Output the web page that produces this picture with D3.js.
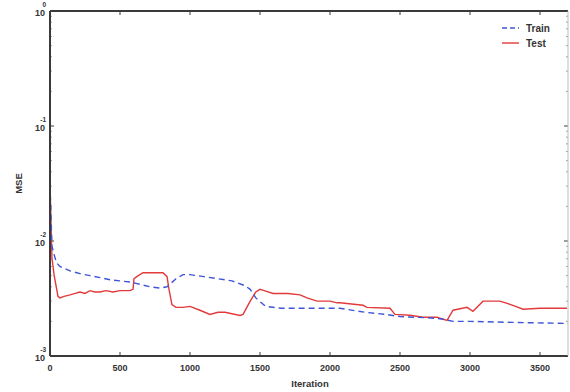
<!DOCTYPE html>
<html>
<head>
<meta charset="utf-8">
<script src="https://cdn.jsdelivr.net/npm/d3@7"></script>
<style>
  html, body { margin: 0; padding: 0; background: #fff; }
  svg text { font-family: Arial, "Liberation Sans", sans-serif; font-weight: bold; fill: #333; }
</style>
</head>
<body>
<svg id="chart" width="570" height="392"></svg>
<script>
// Training curve: iteration -> MSE
const trainIter = [0, 14, 36, 50, 71, 143, 214, 286, 357, 429, 500, 571, 643, 714, 786, 836, 900, 950, 1000, 1100, 1200, 1300, 1390, 1430, 1470, 1540, 1650, 1800, 2000, 2071, 2250, 2400, 2500, 2700, 2800, 2880, 3000, 3300, 3700];
const trainMSE  = [0.031, 0.0090, 0.0071, 0.0064, 0.0060, 0.0055, 0.0052, 0.0050, 0.0048, 0.0046, 0.0045, 0.0044, 0.0042, 0.0040, 0.0039, 0.0040, 0.0047, 0.0051, 0.0051, 0.0049, 0.0047, 0.0045, 0.0041, 0.0038, 0.0032, 0.0027, 0.0026, 0.0026, 0.0026, 0.0026, 0.0024, 0.0023, 0.0022, 0.00215, 0.0021, 0.0020, 0.0020, 0.00196, 0.00192];

// Test curve: iteration -> MSE
const testIter = [0, 14, 30, 57, 71, 100, 143, 180, 214, 250, 286, 320, 357, 400, 450, 500, 571, 593, 600, 620, 664, 700, 807, 836, 850, 871, 900, 950, 1000, 1071, 1143, 1200, 1250, 1357, 1379, 1430, 1470, 1500, 1530, 1593, 1700, 1786, 1836, 1907, 2000, 2050, 2071, 2236, 2264, 2429, 2464, 2571, 2664, 2764, 2836, 2879, 2979, 3021, 3093, 3214, 3307, 3379, 3500, 3693];
const testMSE  = [0.031, 0.0071, 0.0050, 0.0033, 0.0032, 0.0033, 0.0034, 0.0035, 0.0036, 0.0035, 0.0037, 0.0036, 0.0036, 0.0037, 0.0036, 0.0037, 0.0037, 0.0038, 0.0047, 0.0049, 0.0053, 0.0053, 0.0053, 0.0049, 0.0038, 0.0028, 0.00265, 0.00265, 0.0027, 0.0025, 0.0023, 0.0024, 0.0024, 0.00225, 0.0023, 0.0030, 0.0036, 0.0038, 0.0037, 0.0035, 0.0035, 0.0034, 0.0032, 0.0030, 0.0030, 0.0029, 0.0029, 0.00276, 0.00265, 0.0026, 0.0023, 0.00226, 0.00217, 0.00217, 0.00204, 0.0025, 0.00265, 0.00245, 0.0030, 0.0030, 0.00276, 0.00255, 0.0026, 0.0026];

const xTicks = [0, 500, 1000, 1500, 2000, 2500, 3000, 3500];
const yTicks = [1e-3, 1e-2, 1e-1, 1];
const yExponents = ["-3", "-2", "-1", "0"];
const seriesNames = ["Train", "Test"];

const svg = d3.select("#chart");
const plotLeft = 50, plotRight = 568, plotTop = 11, plotBottom = 356;

const x = d3.scaleLinear().domain([0, 3700]).range([plotLeft, plotRight]);
const y = d3.scaleLog().domain([1e-3, 1]).range([plotBottom, plotTop]);

const axisColor = "#3a3a3a";

// Minor ticks for the log axis (2..9 within each decade)
const minor = [];
for (let d = -3; d < 0; d++) {
  for (let m = 2; m <= 9; m++) minor.push(m * Math.pow(10, d));
}

// Frame ticks, pointing inward on all four sides
const ticksG = svg.append("g").attr("stroke", axisColor);
xTicks.forEach(t => {
  ticksG.append("line").attr("x1", x(t)).attr("x2", x(t)).attr("y1", plotBottom).attr("y2", plotBottom - 4).attr("stroke-width", 1);
  ticksG.append("line").attr("x1", x(t)).attr("x2", x(t)).attr("y1", plotTop).attr("y2", plotTop + 4).attr("stroke-width", 1);
});
yTicks.forEach(t => {
  ticksG.append("line").attr("x1", plotLeft).attr("x2", plotLeft + 4).attr("y1", y(t)).attr("y2", y(t)).attr("stroke-width", 1);
  ticksG.append("line").attr("x1", plotRight).attr("x2", plotRight - 4).attr("y1", y(t)).attr("y2", y(t)).attr("stroke-width", 1);
});
minor.forEach(t => {
  ticksG.append("line").attr("x1", plotLeft).attr("x2", plotLeft + 2).attr("y1", y(t)).attr("y2", y(t)).attr("stroke-width", 0.8).attr("stroke-opacity", 0.6);
  ticksG.append("line").attr("x1", plotRight).attr("x2", plotRight - 2).attr("y1", y(t)).attr("y2", y(t)).attr("stroke-width", 0.8).attr("stroke-opacity", 0.6);
});

// Data lines
const line = d3.line().x(d => x(d[0])).y(d => y(d[1]));
const trainData = trainIter.map((t, i) => [t, trainMSE[i]]);
const testData = testIter.map((t, i) => [t, testMSE[i]]);

svg.append("path").datum(testData)
  .attr("d", line).attr("fill", "none")
  .attr("stroke", "#e23a3a").attr("stroke-width", 1.4);

svg.append("path").datum(trainData)
  .attr("d", line).attr("fill", "none")
  .attr("stroke", "#3f55d6").attr("stroke-width", 1.4)
  .attr("stroke-dasharray", "6,4");

// Frame box
svg.append("line").attr("x1", plotLeft).attr("x2", plotLeft).attr("y1", plotTop).attr("y2", plotBottom).attr("stroke", axisColor).attr("stroke-width", 2);
svg.append("line").attr("x1", plotLeft).attr("x2", plotRight).attr("y1", plotBottom).attr("y2", plotBottom).attr("stroke", axisColor).attr("stroke-width", 2);
svg.append("line").attr("x1", plotLeft).attr("x2", plotRight).attr("y1", plotTop).attr("y2", plotTop).attr("stroke", axisColor).attr("stroke-width", 2);
svg.append("line").attr("x1", plotRight).attr("x2", plotRight).attr("y1", plotTop).attr("y2", plotBottom).attr("stroke", "#bbb").attr("stroke-width", 1);

// X tick labels
svg.append("g").selectAll("text").data(xTicks).join("text")
  .attr("x", d => x(d)).attr("y", plotBottom + 15)
  .attr("text-anchor", "middle").attr("font-size", 9)
  .text(d => d);

// Y tick labels as 10 with a superscript exponent
const yl = svg.append("g");
yTicks.forEach((t, i) => {
  yl.append("text").attr("x", plotLeft - 5).attr("y", y(t) + 5)
    .attr("text-anchor", "end").attr("font-size", 9).text("10");
  yl.append("text").attr("x", plotLeft - 4).attr("y", y(t) - 4)
    .attr("text-anchor", "end").attr("font-size", 6.5).text(yExponents[i]);
});

// Axis titles
svg.append("text").attr("x", 310).attr("y", 387)
  .attr("text-anchor", "middle").attr("font-size", 9.5).text("Iteration");
svg.append("text").attr("transform", `translate(22,${(plotTop + plotBottom) / 2}) rotate(-90)`)
  .attr("text-anchor", "middle").attr("font-size", 9.5).text("MSE");

// Legend
const lg = svg.append("g");
lg.append("line").attr("x1", 502).attr("x2", 519).attr("y1", 28).attr("y2", 28)
  .attr("stroke", "#3f55d6").attr("stroke-width", 1.4).attr("stroke-dasharray", "5,3");
lg.append("line").attr("x1", 502).attr("x2", 519).attr("y1", 43).attr("y2", 43)
  .attr("stroke", "#e23a3a").attr("stroke-width", 1.4);
lg.selectAll("text").data(seriesNames).join("text")
  .attr("x", 526).attr("y", (d, i) => 32 + i * 15)
  .attr("font-size", 10).text(d => d);
</script>
</body>
</html>
